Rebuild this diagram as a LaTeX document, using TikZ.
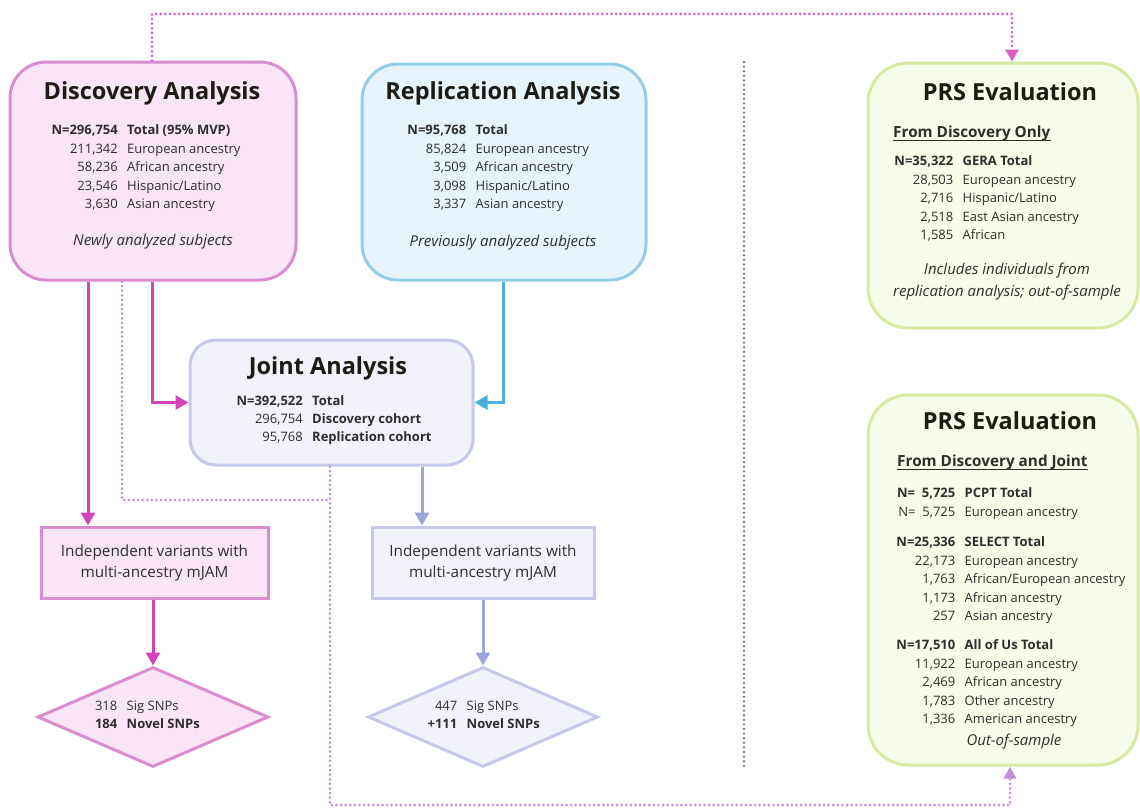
\documentclass[tikz,border=0pt]{standalone}
\usepackage{fontspec}
\setmainfont{Open Sans}
\usetikzlibrary{arrows.meta,shapes.geometric}
\definecolor{discF}{HTML}{F9E5F5}
\definecolor{discD}{HTML}{D98DCD}
\definecolor{mag}{HTML}{D444B6}
\definecolor{repF}{HTML}{E8F4FB}
\definecolor{repD}{HTML}{93CDE8}
\definecolor{repA}{HTML}{4BAFDC}
\definecolor{jntF}{HTML}{F2F2FA}
\definecolor{jntD}{HTML}{C5C8EA}
\definecolor{lav}{HTML}{9CA4DE}
\definecolor{prsF}{HTML}{F7FBE9}
\definecolor{prsD}{HTML}{D6EAA2}
\definecolor{dotP}{HTML}{C28ED8}
\definecolor{dotM}{HTML}{D660C3}
\definecolor{sepG}{HTML}{7A7A7A}
\definecolor{txt}{HTML}{2E2E2E}
\definecolor{ttl}{HTML}{1C1C14}
\newcommand\drow[7]{%
  \node[num,#4] (#1n) at (#2-4.5,#3+4.5) {#5};
  \node[lab,#6] (#1l) at (#2+4.5,#3+4.5) {#7};}
\tikzset{
  num/.style={anchor=base east,inner sep=0pt,text=txt,font=\fontsize{13}{15}\selectfont},
  lab/.style={anchor=base west,inner sep=0pt,text=txt,font=\fontsize{13}{15}\selectfont},
  bf/.style={font=\fontsize{13}{15}\selectfont\bfseries},
  rg/.style={},
  ttlx/.style={anchor=base,inner sep=0pt,text=ttl,font=\fontsize{23.5}{28}\selectfont\bfseries},
  itx/.style={inner sep=0pt,text=txt,font=\fontsize{15}{22}\selectfont\itshape,align=center},
  hdx/.style={inner sep=0pt,text=txt,anchor=base west,font=\fontsize{15.3}{18}\selectfont\bfseries},
  uline/.style={txt,line width=1.3pt},
  bigbox/.style={draw,line width=3pt,inner sep=0pt},
  rectbox/.style={draw,line width=3pt,inner sep=0pt},
  dia/.style={draw,line width=3pt,shape=diamond,inner sep=0pt},
  ivtx/.style={inner sep=0pt,text=txt,font=\fontsize{15.3}{21}\selectfont,align=center},
  solidarr/.style={line width=3pt,-{Triangle[width=14pt,length=13pt]}},
  dotline/.style={line width=3pt,dash pattern=on 0pt off 4.6pt,line cap=round},
}
\begin{document}
\begin{tikzpicture}[x=1pt,y=-1pt]
\useasboundingbox (0,0) rectangle (1140,809);
% boxes
\node[bigbox,draw=discD,fill=discF,rounded corners=36pt,minimum width=286pt,minimum height=218pt] (disc) at (153,171) {};
\node[bigbox,draw=repD,fill=repF,rounded corners=36pt,minimum width=284pt,minimum height=216pt] (rep) at (504,172) {};
\node[bigbox,draw=jntD,fill=jntF,rounded corners=26pt,minimum width=283pt,minimum height=125pt] (jnt) at (331.5,402.5) {};
\node[bigbox,draw=prsD,fill=prsF,rounded corners=40pt,minimum width=270pt,minimum height=265pt] (prs1) at (1003,195.5) {};
\node[bigbox,draw=prsD,fill=prsF,rounded corners=40pt,minimum width=270pt,minimum height=370pt] (prs2) at (1003,580) {};
\node[rectbox,draw=discD,fill=discF,minimum width=227pt,minimum height=71pt] (ind1) at (154.5,562.5) {};
\node[rectbox,draw=jntD,fill=jntF,minimum width=222pt,minimum height=71pt] (ind2) at (483,562.5) {};
\node[dia,draw=discD,fill=discF,minimum width=231pt,minimum height=100pt] (dia1) at (153,717) {};
\node[dia,draw=jntD,fill=jntF,minimum width=230pt,minimum height=100pt] (dia2) at (483,717) {};
% column coordinates
\coordinate (cA) at (88,0);
\coordinate (cB) at (152,0);
\coordinate (cC) at (503,0);
\coordinate (cD) at (422,0);
\coordinate (cE) at (1012,0);
\coordinate (cF) at (122,0);
\coordinate (cH) at (1010,0);
\coordinate (topL) at (152,14);
\coordinate (midR) at (330,500);
\coordinate (botL) at (330,805);
\coordinate (sepT) at (744,62);
\coordinate (sepB) at (744,768);
% connectors
\draw[solidarr,mag] (disc.south -| cA) -- (ind1.north -| cA);
\draw[solidarr,mag] (disc.south -| cB) |- (jnt.west);
\draw[solidarr,repA] (rep.south -| cC) |- (jnt.east);
\draw[solidarr,lav] (jnt.south -| cD) -- (ind2.north -| cD);
\draw[solidarr,mag] (ind1.south -| dia1.north) -- (dia1.north);
\draw[solidarr,lav] (ind2.south -| dia2.north) -- (dia2.north);
\draw[dotline,dotM,-{Triangle[width=13pt,length=12pt]}] (disc.north -| cB) -- (topL) -| (prs1.north -| cE);
\draw[dotline,dotP] (disc.south -| cF) |- (midR);
\draw[dotline,dotP,-{Triangle[width=12pt,length=12pt]}] (jnt.south -| midR) -- (botL) -| (prs2.south -| cH);
\draw[dotline,sepG,line width=2.6pt] (sepT) -- (sepB);
% discovery text
\node[ttlx] (discT) at (152,99.5) {Discovery Analysis};
\drow{d1}{122.5}{130}{bf}{N=296,754}{bf}{Total (95\% MVP)}
\drow{d2}{122.5}{148.5}{rg}{211,342}{rg}{European ancestry}
\drow{d3}{122.5}{167}{rg}{58,236}{rg}{African ancestry}
\drow{d4}{122.5}{185.5}{rg}{23,546}{rg}{Hispanic/Latino}
\drow{d5}{122.5}{204}{rg}{3,630}{rg}{Asian ancestry}
\node[itx] (discI) at (153,242) {Newly analyzed subjects};
% replication text
\node[ttlx] (repT) at (503,99.5) {Replication Analysis};
\drow{r1}{471}{130}{bf}{N=95,768}{bf}{Total}
\drow{r2}{471}{148.5}{rg}{85,824}{rg}{European ancestry}
\drow{r3}{471}{167}{rg}{3,509}{rg}{African ancestry}
\drow{r4}{471}{185.5}{rg}{3,098}{rg}{Hispanic/Latino}
\drow{r5}{471}{204}{rg}{3,337}{rg}{Asian ancestry}
\node[itx] (repI) at (503,243) {Previously analyzed subjects};
% joint text
\node[ttlx] (jntT) at (328,374.5) {Joint Analysis};
\drow{j1}{307.5}{401}{bf}{N=392,522}{bf}{Total}
\drow{j2}{307.5}{419}{rg}{296,754}{bf}{Discovery cohort}
\drow{j3}{307.5}{437}{rg}{95,768}{bf}{Replication cohort}
% indep / diamonds
\node[ivtx] (ind1t) at (154.5,563.5) {Independent variants with\\multi-ancestry mJAM};
\node[ivtx] (ind2t) at (483,563.5) {Independent variants with\\multi-ancestry mJAM};
\drow{s1}{122}{706}{rg}{318}{rg}{Sig SNPs}
\drow{s2}{122}{724}{bf}{184}{bf}{Novel SNPs}
\drow{t1}{462}{706}{rg}{447}{rg}{Sig SNPs}
\drow{t2}{462}{724}{bf}{+111}{bf}{Novel SNPs}
% PRS 1
\node[ttlx] (p1T) at (1010,100.5) {PRS Evaluation};
\node[hdx] (p1H) at (893,137.5) {From Discovery Only};
\draw[uline] ([yshift=-3.2pt]p1H.base west) -- ([yshift=-3.2pt]p1H.base east);
\drow{p1a}{958}{161}{bf}{N=35,322}{bf}{GERA Total}
\drow{p1b}{958}{180}{rg}{28,503}{rg}{European ancestry}
\drow{p1c}{958}{198}{rg}{2,716}{rg}{Hispanic/Latino}
\drow{p1d}{958}{216.5}{rg}{2,518}{rg}{East Asian ancestry}
\drow{p1e}{958}{235}{rg}{1,585}{rg}{African}
\node[itx] (p1I) at (1007,282) {Includes individuals from\\replication analysis; out-of-sample};
% PRS 2
\node[ttlx] (p2T) at (1010,429.5) {PRS Evaluation};
\node[hdx] (p2H) at (897,466.5) {From Discovery and Joint};
\draw[uline] ([yshift=-3.2pt]p2H.base west) -- ([yshift=-3.2pt]p2H.base east);
\drow{p2a}{960}{493}{bf}{N=\ \ 5,725}{bf}{PCPT Total}
\drow{p2b}{960}{512}{rg}{N=\ \ 5,725}{rg}{European ancestry}
\drow{p2c}{960}{542}{bf}{N=25,336}{bf}{SELECT Total}
\drow{p2d}{960}{561}{rg}{22,173}{rg}{European ancestry}
\drow{p2e}{960}{579}{rg}{1,763}{rg}{African/European ancestry}
\drow{p2f}{960}{597.5}{rg}{1,173}{rg}{African ancestry}
\drow{p2g}{960}{616}{rg}{257}{rg}{Asian ancestry}
\drow{p2h}{960}{645}{bf}{N=17,510}{bf}{All of Us Total}
\drow{p2i}{960}{664}{rg}{11,922}{rg}{European ancestry}
\drow{p2j}{960}{682}{rg}{2,469}{rg}{African ancestry}
\drow{p2k}{960}{700.5}{rg}{1,783}{rg}{Other ancestry}
\drow{p2l}{960}{719}{rg}{1,336}{rg}{American ancestry}
\node[itx] (p2I) at (1014,742) {Out-of-sample};
\end{tikzpicture}
\end{document}
